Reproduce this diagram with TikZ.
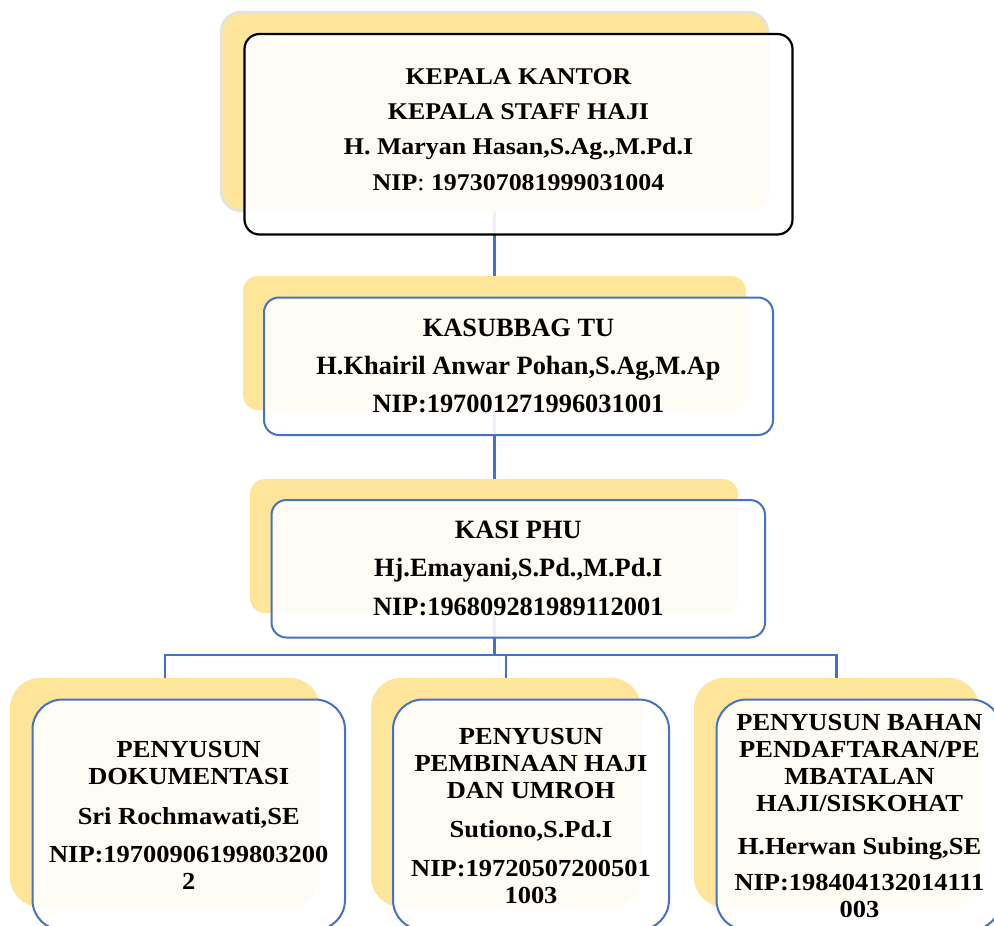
\documentclass[tikz,border=0pt]{standalone}
\usepackage{fontspec}
\setmainfont{Liberation Serif}
\newfontfamily\wideserif[FakeStretch=1.08]{Liberation Serif}
\definecolor{ylw}{HTML}{FFE599}
\definecolor{blu}{HTML}{4472C4}
\definecolor{rimgray}{HTML}{E3E3E3}
\tikzset{
  shadowbox/.style={rectangle, fill=ylw, draw=none, inner sep=0pt},
  frontbox/.style={rectangle, fill=white, fill opacity=0.9, draw=blu, line width=2pt, inner sep=0pt},
  conn/.style={draw=blu, line width=2.4pt},
  toptxt/.style={inner sep=0pt, align=center, anchor=base, font={\wideserif\bfseries\fontsize{24}{35.3}\selectfont}},
  midtxt/.style={inner sep=0pt, align=center, anchor=base, font={\bfseries\fontsize{26.4}{38.3}\selectfont}},
  lowtxt/.style={inner sep=0pt, align=center, anchor=base, font={\wideserif\bfseries\fontsize{24.5}{27}\selectfont}}
}
\begin{document}
\begin{tikzpicture}[x=1pt,y=-1pt]
\useasboundingbox (0,0) rectangle (994,926);
\clip (0,0) rectangle (994,926);
\fill[white] (0,0) rectangle (994,926);
\coordinate (bus) at (0,655);

% connectors (drawn first, behind the boxes)
\node[shadowbox, minimum width=547pt, minimum height=199pt, fill=none] (s1pos) at (494.5,111.5) {};
\node[shadowbox, minimum width=310pt, minimum height=229pt, fill=none] (sLpos) at (165,792.5) {};
\node[shadowbox, minimum width=270pt, minimum height=229pt, fill=none] (sMpos) at (506,792.5) {};
\node[shadowbox, minimum width=285pt, minimum height=229pt, fill=none] (sRpos) at (836.5,792.5) {};
\draw[conn] (s1pos.south) -- (s1pos.south |- bus);
\draw[conn, line cap=rect] (sLpos.north |- bus) -- (sRpos.north |- bus);
\draw[conn] (sLpos.north |- bus) -- (sLpos.north);
\draw[conn] (sMpos.north |- bus) -- (sMpos.north);
\draw[conn] (sRpos.north |- bus) -- (sRpos.north);

% box 1
\node[shadowbox, draw=rimgray, line width=2.5pt, rounded corners=20pt, minimum width=547pt, minimum height=199pt] (s1) at (494.5,111.5) {};
\node[frontbox, draw=black, line width=2.2pt, rounded corners=15pt, minimum width=548pt, minimum height=200.5pt] (f1) at (518.5,134.25) {};
\node[toptxt] (t1) at (518.5,190.2) {KEPALA KANTOR\\KEPALA STAFF HAJI\\H. Maryan Hasan,S.Ag.,M.Pd.I\\NIP{\mdseries:} 197307081999031004};

% box 2
\node[shadowbox, rounded corners=15pt, minimum width=503pt, minimum height=134pt] (s2) at (494.5,343) {};
\node[frontbox, rounded corners=15pt, minimum width=509pt, minimum height=137.5pt] (f2) at (518.5,366.25) {};
\node[midtxt] (t2) at (518.5,412.7) {KASUBBAG TU\\H.Khairil Anwar Pohan,S.Ag,M.Ap\\NIP:197001271996031001};

% box 3
\node[shadowbox, rounded corners=15pt, minimum width=488pt, minimum height=134pt] (s3) at (494,546) {};
\node[frontbox, rounded corners=15pt, minimum width=493.5pt, minimum height=137.5pt] (f3) at (518.25,568.75) {};
\node[midtxt] (t3) at (518.25,615) {KASI PHU\\Hj.Emayani,S.Pd.,M.Pd.I\\NIP:196809281989112001};

% bottom left
\node[shadowbox, rounded corners=30pt, minimum width=310pt, minimum height=229pt] (sL) at (165,792.5) {};
\node[frontbox, rounded corners=30pt, minimum width=312.5pt, minimum height=230.5pt] (fL) at (188.75,814.75) {};
\node[lowtxt] (tL) at (188.75,889.3) {PENYUSUN\\DOKUMENTASI\\[12.5pt]Sri Rochmawati,SE\\[11pt]NIP:19700906199803200\\2};

% bottom middle
\node[shadowbox, rounded corners=30pt, minimum width=270pt, minimum height=229pt] (sM) at (506,792.5) {};
\node[frontbox, rounded corners=30pt, minimum width=276pt, minimum height=230.5pt] (fM) at (531,814.75) {};
\node[lowtxt] (tM) at (531,903.3) {PENYUSUN\\PEMBINAAN HAJI\\DAN UMROH\\[12pt]Sutiono,S.Pd.I\\[11.7pt]NIP:19720507200501\\1003};

% bottom right
\node[shadowbox, rounded corners=30pt, minimum width=285pt, minimum height=229pt] (sR) at (836.5,792.5) {};
\node[frontbox, rounded corners=30pt, minimum width=284.5pt, minimum height=230.5pt] (fR) at (858.75,814.75) {};
\node[lowtxt] (tR) at (859.5,917.3) {PENYUSUN BAHAN\\PENDAFTARAN/PE\\MBATALAN\\HAJI/SISKOHAT\\[16pt]H.Herwan Subing,SE\\[9pt]NIP:198404132014111\\003};
\end{tikzpicture}
\end{document}
